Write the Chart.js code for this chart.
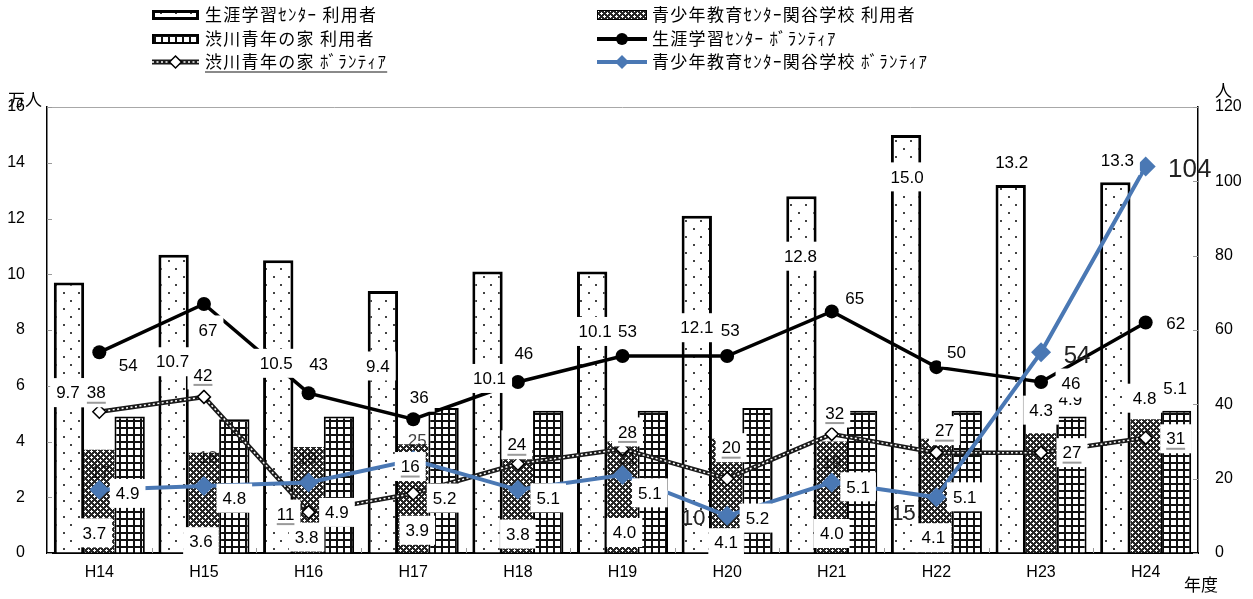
<!DOCTYPE html>
<html><head><meta charset="utf-8">
<script src="https://cdn.jsdelivr.net/npm/chart.js@4"></script>
<style>html,body{margin:0;padding:0;background:#fff;}#wrap{width:1253px;height:599px;position:relative;}</style>
</head><body><div id="wrap"><canvas id="c"></canvas></div>
<script>
// ---------------- data ----------------
const years = ['H14','H15','H16','H17','H18','H19','H20','H21','H22','H23','H24'];
const lifelongUsers = [9.7,10.7,10.5,9.4,10.1,10.1,12.1,12.8,15.0,13.2,13.3];
const sekiyaUsers = [3.7,3.6,3.8,3.9,3.8,4.0,4.1,4.0,4.1,4.3,4.8];
const shibukawaUsers = [4.9,4.8,4.9,5.2,5.1,5.1,5.2,5.1,5.1,4.9,5.1];
const lifelongVolunteers = [54,67,43,36,46,53,53,65,50,46,62];
const shibukawaVolunteers = [38,42,11,16,24,28,20,32,27,27,31];
const sekiyaVolunteers = [17,18,19,25,17,21,10,19,15,54,104];
const seriesNames = ['生涯学習ｾﾝﾀｰ 利用者','青少年教育ｾﾝﾀｰ関谷学校 利用者','渋川青年の家 利用者','生涯学習ｾﾝﾀｰ ﾎﾞﾗﾝﾃｨｱ','渋川青年の家 ﾎﾞﾗﾝﾃｨｱ','青少年教育ｾﾝﾀｰ関谷学校 ﾎﾞﾗﾝﾃｨｱ'];
const leftTicks = {min:0, max:16, step:2};
const rightTicks = {min:0, max:120, step:20};
const leftUnit = '万人', rightUnit = '人', xUnit = '年度';

// ---------------- label placement (style) ----------------
const labelNudge = {
  lifelongUsers:{dx:[-1,-1,-2,-5,2,3,0,-1,1,1,2], dy:[110,107,103,75,107,60,112,60,42,-23,-22]},
  sekiyaUsers:{dx:[-5,-3,-2,4,0,2,-1,0,-3,0,-1], dy:[83,89,90,86,87,91,104,92,99,-23,-21]},
  shibukawaUsers:{dx:[-2,0,-2,1,0,-3,0,-4,-2,-1,-1], dy:[77,79,96,90,87,82,110,76,86,-17,-23]},
  lifelongVolunteers:{dx:[29,4,10,6,6,5,3,23,20,30,30], dy:[13,26,-29,-22,-29,-25,-26,-13,-15,1,1]},
  shibukawaVolunteers:{dx:[-3,-1,-23,-3,-1,5,4,3,8,31,30], dy:[-19,-22,2,-27,-19,-17,-31,-21,-22,0,1]},
  sekiyaVolunteers:{dx:[1,4,-1,4,0,5,-34,0,-33,36,44], dy:[-18,-29,-24,-20,-45,-17,2,-20,16,3,2]}
};
const sekiyaVolLabelSize = [17,17,17,17,17,17,22,17,22,24,26];

const BLUE = '#4a78b4';
const LATIN = '"Liberation Sans", Arial, sans-serif';
const JP = '"Noto Sans CJK JP", "Noto Sans", sans-serif';

const canvas = document.getElementById('c');
const mainCtx = canvas.getContext('2d');
function tile(w,h,fn){const c=document.createElement('canvas');c.width=w;c.height=h;const x=c.getContext('2d');fn(x);return mainCtx.createPattern(c,'repeat');}
const dotPattern = tile(15,16,x=>{x.fillStyle='#fff';x.fillRect(0,0,15,16);x.fillStyle='#444';x.fillRect(3,4,2,2);x.fillRect(10,12,2,2);});
const crossPattern = tile(6,6,x=>{x.fillStyle='#262626';x.fillRect(0,0,6,6);x.fillStyle='#fff';
  [[1,1],[4,4]].forEach(([cx,cy])=>{x.fillRect(cx,cy,1,1);x.fillRect(cx-1,cy,1,1);x.fillRect(cx+1,cy,1,1);x.fillRect(cx,cy-1,1,1);x.fillRect(cx,(cy+1)%6,1,1);});});
const gridPattern = tile(7,7,x=>{x.fillStyle='#111';x.fillRect(0,0,7,7);x.fillStyle='#fff';x.fillRect(2,2,5,5);});

function drawLabel(ctx,text,x,y,o){
  const size=o.size||17;
  ctx.font=size+'px '+LATIN;
  const w=ctx.measureText(text).width;
  if(o.box){ctx.fillStyle='#fff';ctx.fillRect(x-w/2-6,y-(size+12)/2,w+12,size+12);}
  ctx.fillStyle=o.color||'#000';ctx.textAlign='center';ctx.textBaseline='middle';
  ctx.fillText(text,x,y+1);
  if(o.underline){ctx.strokeStyle='#9a9a9a';ctx.lineWidth=2;ctx.beginPath();ctx.moveTo(x-w/2,y+10);ctx.lineTo(x+w/2,y+10);ctx.stroke();}
}

function lineSwatch(ctx,x0,x1,y,kind){
  ctx.save();
  if(kind==='black'){ctx.strokeStyle='#000';ctx.lineWidth=4;ctx.beginPath();ctx.moveTo(x0,y);ctx.lineTo(x1,y);ctx.stroke();
    ctx.fillStyle='#000';ctx.beginPath();ctx.arc((x0+x1)/2,y,6,0,Math.PI*2);ctx.fill();}
  else if(kind==='blue'){ctx.strokeStyle=BLUE;ctx.lineWidth=4;ctx.beginPath();ctx.moveTo(x0,y);ctx.lineTo(x1,y);ctx.stroke();
    const cx=(x0+x1)/2;ctx.fillStyle=BLUE;ctx.beginPath();ctx.moveTo(cx,y-7);ctx.lineTo(cx+7,y);ctx.lineTo(cx,y+7);ctx.lineTo(cx-7,y);ctx.closePath();ctx.fill();}
  else {ctx.strokeStyle='#1a1a1a';ctx.lineWidth=5;ctx.beginPath();ctx.moveTo(x0,y);ctx.lineTo(x1,y);ctx.stroke();
    ctx.strokeStyle='#fff';ctx.lineWidth=1.5;ctx.setLineDash([2,2.5]);ctx.beginPath();ctx.moveTo(x0,y);ctx.lineTo(x1,y);ctx.stroke();ctx.setLineDash([]);
    const cx=(x0+x1)/2;ctx.fillStyle='#fff';ctx.strokeStyle='#000';ctx.lineWidth=1.5;ctx.beginPath();ctx.moveTo(cx,y-6);ctx.lineTo(cx+6,y);ctx.lineTo(cx,y+6);ctx.lineTo(cx-6,y);ctx.closePath();ctx.fill();ctx.stroke();}
  ctx.restore();
}
function boxSwatch(ctx,x,y,w,h,pat,bw){
  ctx.save();ctx.fillStyle='#000';ctx.fillRect(x,y,w,h);ctx.fillStyle=pat;ctx.fillRect(x+bw,y+bw,w-2*bw,h-2*bw);ctx.restore();
}

const decor = {
  id:'decor',
  beforeDatasetsDraw(chart){
    const {ctx,chartArea:a}=chart;ctx.save();
    ctx.strokeStyle='#a8a8a8';ctx.lineWidth=1;ctx.beginPath();ctx.moveTo(a.left,a.top+0.5);ctx.lineTo(a.right,a.top+0.5);ctx.stroke();
    ctx.restore();
  },
  afterDatasetsDraw(chart){
    const {ctx,chartArea:a,scales}=chart;ctx.save();
    // inward tick marks
    ctx.strokeStyle='#9a9a9a';ctx.lineWidth=1;ctx.beginPath();
    for(let v=leftTicks.min;v<=leftTicks.max;v+=leftTicks.step){const y=Math.round(scales.y.getPixelForValue(v))+0.5;ctx.moveTo(a.left,y);ctx.lineTo(a.left+5,y);}
    for(let v=rightTicks.min;v<=rightTicks.max;v+=rightTicks.step){const y=Math.round(scales.y1.getPixelForValue(v))+0.5;ctx.moveTo(a.right-5,y);ctx.lineTo(a.right,y);}
    const step=(a.right-a.left)/years.length;
    for(let i=1;i<years.length;i++){const x=Math.round(a.left+i*step)+0.5;ctx.moveTo(x,a.bottom);ctx.lineTo(x,a.bottom-5);}
    ctx.stroke();
    // data labels
    const plan=[
      {ds:6,key:'sekiyaVolunteers',fmt:v=>String(v)},
      {ds:0,key:'lifelongUsers',fmt:v=>v.toFixed(1),box:true},
      {ds:1,key:'sekiyaUsers',fmt:v=>v.toFixed(1),box:true},
      {ds:2,key:'shibukawaUsers',fmt:v=>v.toFixed(1),box:true},
      {ds:3,key:'lifelongVolunteers',fmt:v=>String(v),box:true},
      {ds:5,key:'shibukawaVolunteers',fmt:v=>String(v),box:true,underline:true}
    ];
    plan.forEach(p=>{
      const meta=chart.getDatasetMeta(p.ds);const vals=chart.data.datasets[p.ds].data;const nd=labelNudge[p.key];
      meta.data.forEach((el,i)=>{
        let o={box:p.box,underline:p.underline};
        if(p.key==='sekiyaVolunteers'){const s=sekiyaVolLabelSize[i];o.size=s;o.color=s>17?'#222':'rgba(0,0,0,0.75)';}
        drawLabel(ctx,p.fmt(vals[i]),el.x+nd.dx[i],el.y+nd.dy[i],o);
      });
    });
    ctx.restore();
  },
  afterDraw(chart){
    const {ctx,chartArea:a}=chart;ctx.save();
    // legend
    const rows=[15,39,62];
    const lx=152,lw=47,rx=597,rw=50;
    boxSwatch(ctx,lx,rows[0]-5,lw,10,dotPattern,3);
    boxSwatch(ctx,lx,rows[1]-5,lw,10,gridPattern,2);
    lineSwatch(ctx,lx,lx+lw,rows[2],'dash');
    boxSwatch(ctx,rx,rows[0]-5,rw,10,crossPattern,1);
    lineSwatch(ctx,rx,rx+rw,rows[1],'black');
    lineSwatch(ctx,rx,rx+rw,rows[2],'blue');
    ctx.font='17px '+JP;ctx.fillStyle='#000';ctx.textAlign='left';ctx.textBaseline='middle';
    ctx.letterSpacing='1.3px';
    const items=[[seriesNames[0],205,rows[0]],[seriesNames[2],205,rows[1]],[seriesNames[4],205,rows[2]],[seriesNames[1],652,rows[0]],[seriesNames[3],652,rows[1]],[seriesNames[5],652,rows[2]]];
    items.forEach(([t,x,y])=>ctx.fillText(t,x,y));
    const uw=ctx.measureText(seriesNames[4]).width;
    ctx.strokeStyle='#8a8a8a';ctx.lineWidth=2;ctx.beginPath();ctx.moveTo(205,72);ctx.lineTo(205+uw,72);ctx.stroke();
    ctx.letterSpacing='0px';
    // axis units
    ctx.font='17px '+JP;ctx.fillStyle='#000';
    ctx.textAlign='left';ctx.fillText(leftUnit,8,100);
    ctx.fillText(rightUnit,1215,91);
    ctx.fillText(xUnit,1184,585);
    ctx.restore();
  }
};

new Chart(canvas,{
  type:'bar',
  data:{labels:years,datasets:[
    {label:seriesNames[0],data:lifelongUsers,yAxisID:'y',backgroundColor:dotPattern,borderColor:'#000',borderWidth:3,categoryPercentage:0.87,barPercentage:1,order:10},
    {label:seriesNames[1],data:sekiyaUsers,yAxisID:'y',backgroundColor:crossPattern,borderColor:'#222',borderWidth:0,categoryPercentage:0.87,barPercentage:1,order:10},
    {label:seriesNames[2],data:shibukawaUsers,yAxisID:'y',backgroundColor:gridPattern,borderColor:'#000',borderWidth:2,categoryPercentage:0.87,barPercentage:1,order:10},
    {type:'line',label:seriesNames[3],data:lifelongVolunteers,yAxisID:'y1',borderColor:'#000',borderWidth:3.5,tension:0,pointStyle:'circle',pointRadius:7,pointBackgroundColor:'#000',pointBorderWidth:0,order:4},
    {type:'line',label:seriesNames[4],data:shibukawaVolunteers,yAxisID:'y1',borderColor:'#1a1a1a',borderWidth:4.5,tension:0,pointRadius:0,order:3},
    {type:'line',label:seriesNames[4],data:shibukawaVolunteers,yAxisID:'y1',borderColor:'#fff',borderWidth:1.5,borderDash:[2,2.5],tension:0,pointStyle:'rectRot',pointRadius:6.5,pointBackgroundColor:'#fff',pointBorderColor:'#000',pointBorderWidth:1.5,order:2},
    {type:'line',label:seriesNames[5],data:sekiyaVolunteers,yAxisID:'y1',borderColor:BLUE,borderWidth:4,tension:0,pointStyle:'rectRot',pointRadius:10,pointBackgroundColor:BLUE,pointBorderWidth:0,order:1}
  ]},
  options:{
    responsive:true,maintainAspectRatio:false,animation:false,devicePixelRatio:1,
    layout:{padding:{top:107,left:0,right:0,bottom:0}},
    plugins:{legend:{display:false},tooltip:{enabled:false}},
    scales:{
      x:{offset:true,grid:{display:true,color:'rgba(0,0,0,0)',drawTicks:false},border:{display:true,color:'#000',width:2},
         ticks:{font:{family:LATIN,size:16},color:'#000',padding:10,maxRotation:0},afterFit(s){s.height=46;}},
      y:{position:'left',min:leftTicks.min,max:leftTicks.max,ticks:{stepSize:leftTicks.step,font:{family:LATIN,size:16},color:'#000',padding:22},
         grid:{display:true,color:'rgba(0,0,0,0)',drawTicks:false},border:{display:true,color:'#000',width:1.5},afterFit(s){s.width=47;}},
      y1:{position:'right',min:rightTicks.min,max:rightTicks.max,ticks:{stepSize:rightTicks.step,font:{family:LATIN,size:16},color:'#000',padding:17},
         grid:{display:false,drawTicks:false},border:{display:true,color:'#000',width:1.5},afterFit(s){s.width=55;}}
    }
  },
  plugins:[decor]
});
</script></body></html>
